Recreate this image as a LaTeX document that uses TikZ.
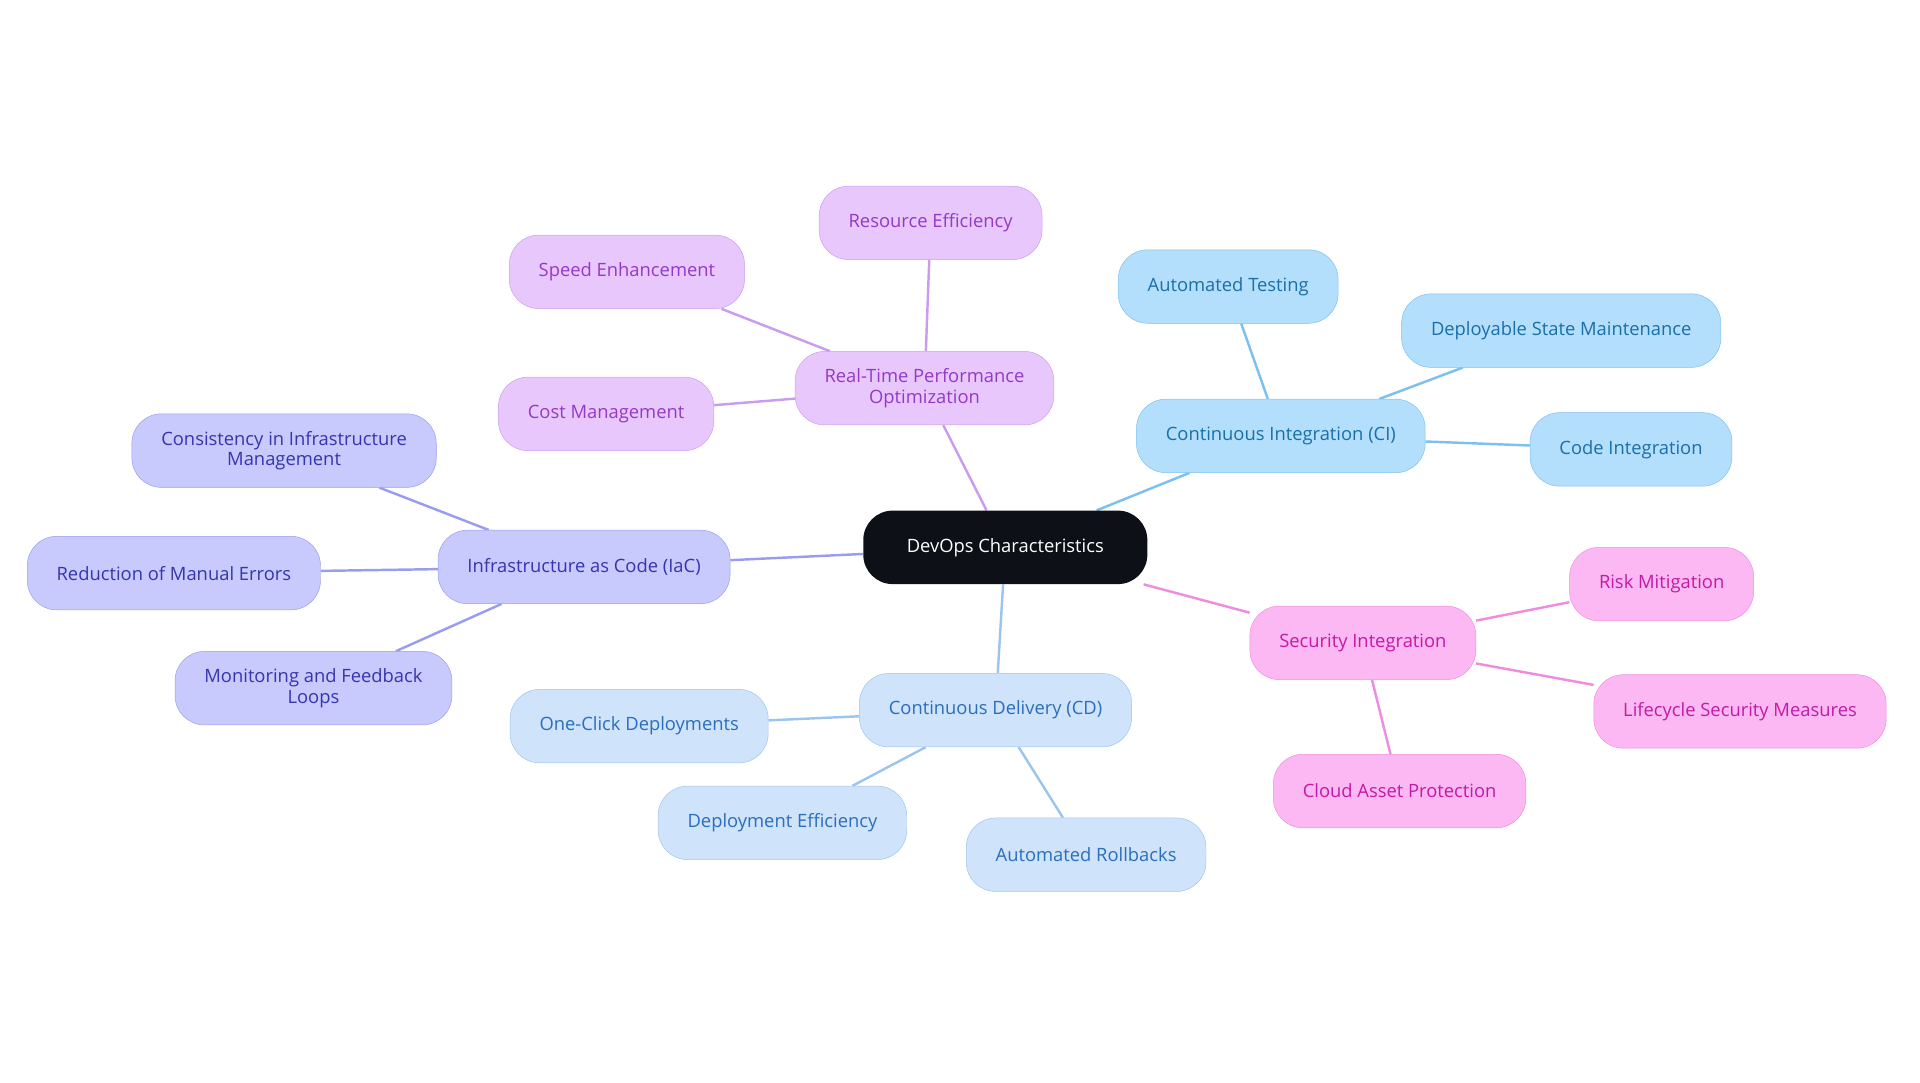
\documentclass[tikz,border=0pt]{standalone}
\usepackage{fontspec}
\setmainfont{Open Sans}
\usetikzlibrary{backgrounds}
\definecolor{rootfill}{HTML}{0D1117}
\definecolor{cifill}{HTML}{B3DFFC}\definecolor{cidraw}{HTML}{7CC0EF}\definecolor{citext}{HTML}{1A6FA8}
\definecolor{cdfill}{HTML}{CFE3FB}\definecolor{cddraw}{HTML}{9CC4F0}\definecolor{cdtext}{HTML}{2A6EBD}
\definecolor{secfill}{HTML}{FCB8F2}\definecolor{secdraw}{HTML}{F08CE0}\definecolor{sectext}{HTML}{C21AA6}
\definecolor{iacfill}{HTML}{C8C9FC}\definecolor{iacdraw}{HTML}{9A9CF0}\definecolor{iactext}{HTML}{3535B0}
\definecolor{rtfill}{HTML}{E8C8FC}\definecolor{rtdraw}{HTML}{C99CF0}\definecolor{rttext}{HTML}{9438C8}
\begin{document}
\begin{tikzpicture}[x=1pt,y=-1pt,
  box/.style={rounded corners=24pt, minimum height=60pt, inner xsep=24pt, align=center,
    font=\fontsize{15}{17}\selectfont},
  ci/.style={box, fill=cifill, draw=cidraw, text=citext},
  cd/.style={box, fill=cdfill, draw=cddraw, text=cdtext},
  sec/.style={box, fill=secfill, draw=secdraw, text=sectext},
  iac/.style={box, fill=iacfill, draw=iacdraw, text=iactext},
  rt/.style={box, fill=rtfill, draw=rtdraw, text=rttext},
  link/.style={line width=2pt}]
\useasboundingbox (0,0) rectangle (1568,884);

\node[box, fill=rootfill, text=white, minimum width=232pt] (root) at (821,447) {DevOps Characteristics};

% continuous integration
\node[ci] (ci) at (1046,356) {Continuous Integration (CI)};
\node[ci] (autotest) at (1003,234) {Automated Testing};
\node[ci] (deploystate) at (1275,270) {Deployable State Maintenance};
\node[ci] (codeint) at (1332,367) {Code Integration};
% security
\node[sec] (sec) at (1113,525) {Security Integration};
\node[sec] (risk) at (1357,477) {Risk Mitigation};
\node[sec] (lifecycle) at (1421,581) {Lifecycle Security Measures};
\node[sec] (cloud) at (1143,646) {Cloud Asset Protection};
% continuous delivery
\node[cd] (cd) at (813,580) {Continuous Delivery (CD)};
\node[cd] (oneclick) at (522,593) {One-Click Deployments};
\node[cd] (deployeff) at (639,672) {Deployment Efficiency};
\node[cd] (rollback) at (887,698) {Automated Rollbacks};
% infrastructure as code
\node[iac] (iac) at (477,463) {Infrastructure as Code (IaC)};
\node[iac] (consist) at (232,368) {Consistency in Infrastructure\\Management};
\node[iac] (manual) at (142,468) {Reduction of Manual Errors};
\node[iac] (monitor) at (256,562) {Monitoring and Feedback\\Loops};
% performance
\node[rt] (rt) at (755,317) {Real-Time Performance\\Optimization};
\node[rt] (speed) at (512,222) {Speed Enhancement};
\node[rt] (resource) at (760,182) {Resource Efficiency};
\node[rt] (cost) at (495,338) {Cost Management};

\begin{scope}[on background layer]
\draw[link, cidraw] (root) -- (ci) (ci) -- (autotest) (ci) -- (deploystate) (ci) -- (codeint);
\draw[link, secdraw] (root) -- (sec) (sec) -- (risk) (sec) -- (lifecycle) (sec) -- (cloud);
\draw[link, cddraw] (root) -- (cd) (cd) -- (oneclick) (cd) -- (deployeff) (cd) -- (rollback);
\draw[link, iacdraw] (root) -- (iac) (iac) -- (consist) (iac) -- (manual) (iac) -- (monitor);
\draw[link, rtdraw] (root) -- (rt) (rt) -- (speed) (rt) -- (resource) (rt) -- (cost);
\end{scope}
\end{tikzpicture}
\end{document}
